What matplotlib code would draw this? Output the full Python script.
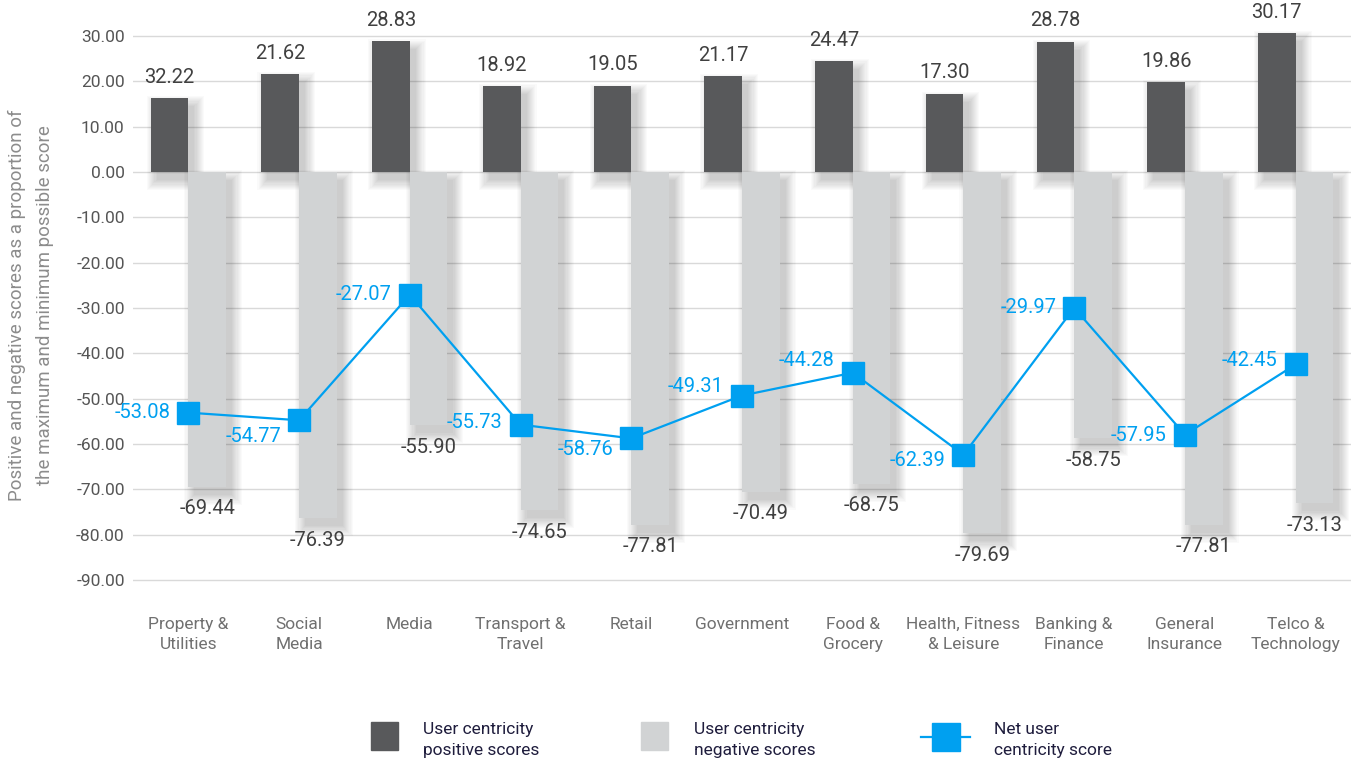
import numpy as np
import matplotlib
matplotlib.use("Agg")
import matplotlib.pyplot as plt
from matplotlib.patches import Rectangle
from matplotlib.lines import Line2D

plt.rcParams['font.family'] = ['Roboto', 'DejaVu Sans']
plt.rcParams['axes.unicode_minus'] = False

categories = ['Property &\nUtilities', 'Social\nMedia', 'Media', 'Transport &\nTravel', 'Retail',
              'Government', 'Food &\nGrocery', 'Health, Fitness\n& Leisure', 'Banking &\nFinance',
              'General\nInsurance', 'Telco &\nTechnology']
positive = [16.36, 21.62, 28.83, 18.92, 19.05, 21.18, 24.47, 17.30, 28.78, 19.86, 30.68]
positive_labels = [32.22, 21.62, 28.83, 18.92, 19.05, 21.17, 24.47, 17.30, 28.78, 19.86, 30.17]
negative = [-69.44, -76.39, -55.90, -74.65, -77.81, -70.49, -68.75, -79.69, -58.75, -77.81, -73.13]
net = [-53.08, -54.77, -27.07, -55.73, -58.76, -49.31, -44.28, -62.39, -29.97, -57.95, -42.45]
yticks = list(range(-90, 31, 10))

DARK = '#58595b'
GRAY = '#d1d3d4'
BLUE = '#00a0f0'

W, H = 1353, 762
fig = plt.figure(figsize=(W / 100, H / 100), dpi=100)
ax = fig.add_axes([133 / W, 1 - 589 / H, (1351 - 133) / W, (589 - 18) / H])
ax.set_xlim(-0.5, 10.5)
ax.set_ylim(-92, 34)

x = np.arange(len(categories))
bw = 0.34
off = 0.17
pxx = 11 / (1351 - 133)
pxy = 126 / (589 - 18)

# soft shadows (offset right/down, blurred by stacking translucent layers)
def shadow(xc, bottoms, tops):
    for s in np.linspace(0, 10, 10):
        lo = np.minimum(bottoms, tops) - 8 * pxy - s * pxy
        hi = np.maximum(bottoms, tops) - 8 * pxy + s * pxy
        ax.bar(xc + 6 * pxx, hi - lo, width=bw + 2 * s * pxx, bottom=lo,
               color='black', alpha=0.02, zorder=1, linewidth=0)

pos = np.array(positive)
neg = np.array(negative)
shadow(x - off, np.zeros_like(pos), pos)
shadow(x + off, np.zeros_like(neg), neg)

ax.bar(x - off, pos, width=bw, color=DARK, zorder=2, linewidth=0)
ax.bar(x + off, neg, width=bw, color=GRAY, zorder=2, linewidth=0)
ax.plot(x, net, color=BLUE, lw=1.6, marker='s', markersize=16.5, zorder=3)

for xi, v, lab in zip(x, pos, positive_labels):
    ax.annotate(f'{lab:.2f}', (xi - off, v), xytext=(0, 15), textcoords='offset points',
                ha='center', va='center', fontsize=14.5, color='#404040', zorder=5)
for xi, v in zip(x, neg):
    ax.annotate(f'{v:.2f}', (xi + off, v), xytext=(0, -16), textcoords='offset points',
                ha='center', va='center', fontsize=14.5, color='#404040', zorder=5)
net_dy = [0, -16, 0, 2, -11, 9, 12, -6, 0, -1, 4]
for xi, v, dy in zip(x, net, net_dy):
    ax.annotate(f'{v:.2f}', (xi, v), xytext=(-13, dy * 0.72), textcoords='offset points',
                ha='right', va='center', fontsize=14.5, color=BLUE, zorder=5)

ax.set_yticks(yticks)
ax.set_yticklabels([f'{t:.2f}' for t in yticks], fontsize=12.5, color='#555555')
ax.set_xticks(x)
ax.set_xticklabels(categories, fontsize=12.5, color='#707070', linespacing=1.45)
ax.tick_params(axis='both', length=0)
ax.tick_params(axis='y', pad=6)
ax.tick_params(axis='x', pad=20)
ax.yaxis.grid(True, color='#d9d9d9', lw=1)
ax.set_axisbelow(True)
for sp in ax.spines.values():
    sp.set_visible(False)

fig.text(31 / W, 1 - 305 / H,
         'Positive and negative scores as a proportion of\nthe maximum and minimum possible score',
         rotation=90, ha='center', va='center', fontsize=13.5, color='#8c8c8c', linespacing=1.75)

# legend
def fx(p):
    return p / W

def fy(p):
    return 1 - p / H

LEG_TXT = '#1f1d3d'
fig.add_artist(Rectangle((fx(371), fy(750)), 27 / W, 28 / H, color=DARK, transform=fig.transFigure))
fig.text(fx(423), fy(740), 'User centricity\npositive scores', ha='left', va='center',
         fontsize=12.5, color=LEG_TXT, linespacing=1.5)
fig.add_artist(Rectangle((fx(641), fy(750)), 27 / W, 28 / H, color=GRAY, transform=fig.transFigure))
fig.text(fx(694), fy(740), 'User centricity\nnegative scores', ha='left', va='center',
         fontsize=12.5, color=LEG_TXT, linespacing=1.5)
fig.add_artist(Line2D([fx(921), fx(970)], [fy(737), fy(737)], color=BLUE, lw=1.6,
                      transform=fig.transFigure))
fig.add_artist(Line2D([fx(945.5)], [fy(737)], color=BLUE, marker='s', markersize=20,
                      transform=fig.transFigure))
fig.text(fx(994), fy(740), 'Net user\ncentricity score', ha='left', va='center',
         fontsize=12.5, color=LEG_TXT, linespacing=1.5)

fig.savefig('out.png', dpi=100)
